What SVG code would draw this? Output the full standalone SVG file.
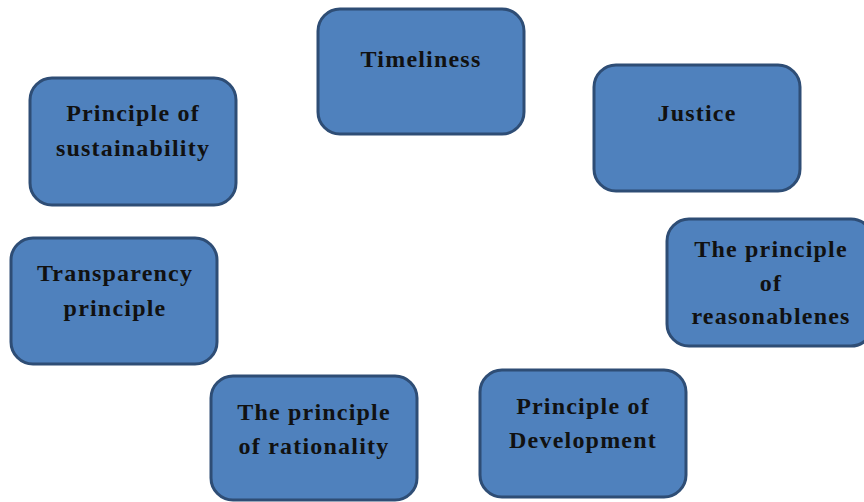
<svg xmlns="http://www.w3.org/2000/svg" width="864" height="502" viewBox="0 0 864 502">
<style>
.box{fill:#4F81BD;stroke:#2E4D75;stroke-width:3}
.t{font-family:"Liberation Serif","Times New Roman",serif;font-weight:bold;font-size:24px;letter-spacing:1.2px;fill:#111;text-anchor:middle}
</style>
<rect width="864" height="502" fill="#fff"/>
<g id="connectors"></g>
<g id="timeliness"><rect class="box" x="318" y="9" width="206" height="125" rx="22"/><text class="t" x="421" y="67">Timeliness</text></g>
<g id="justice"><rect class="box" x="594" y="65" width="206" height="126" rx="22"/><text class="t" x="697" y="121">Justice</text></g>
<g id="sustainability"><rect class="box" x="30" y="78" width="206" height="127" rx="22"/><text class="t" x="133" y="121">Principle of</text><text class="t" x="133" y="156">sustainability</text></g>
<g id="transparency"><rect class="box" x="11" y="238" width="206" height="126" rx="22"/><text class="t" x="115" y="281">Transparency</text><text class="t" x="115" y="316">principle</text></g>
<g id="reasonableness"><rect class="box" x="667" y="219" width="206" height="127" rx="22"/><text class="t" x="771" y="257">The principle</text><text class="t" x="771" y="291">of</text><text class="t" x="771" y="324">reasonablenes</text></g>
<g id="rationality"><rect class="box" x="211" y="376" width="206" height="124" rx="22"/><text class="t" x="314" y="420">The principle</text><text class="t" x="314" y="454">of rationality</text></g>
<g id="development"><rect class="box" x="480" y="370" width="206" height="127" rx="22"/><text class="t" x="583" y="414">Principle of</text><text class="t" x="583" y="448">Development</text></g>
</svg>
